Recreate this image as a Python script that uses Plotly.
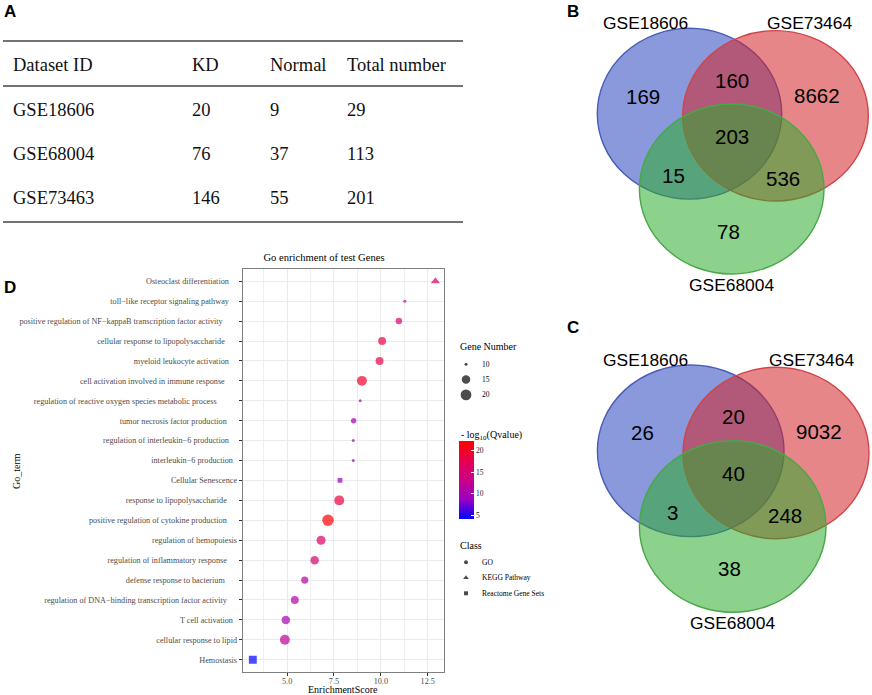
import numpy as np
import plotly.graph_objects as go

W, H = 872, 695
SERIF = "Liberation Serif"
SANS = "Liberation Sans"

# ---------------- Panel A: dataset table ----------------
table_headers = ["Dataset ID", "KD", "Normal", "Total number"]
dataset_ids = ["GSE18606", "GSE68004", "GSE73463"]
kd_counts = [20, 76, 146]
normal_counts = [9, 37, 55]
total_numbers = [29, 113, 201]

# ---------------- Panels B & C: Venn diagrams ----------------
venn_set_names = ["GSE18606", "GSE73464", "GSE68004"]
venn_regions = ["GSE18606 only", "GSE18606 & GSE73464", "GSE73464 only", "all three",
                "GSE18606 & GSE68004", "GSE73464 & GSE68004", "GSE68004 only"]
venn_b_counts = [169, 160, 8662, 203, 15, 536, 78]
venn_c_counts = [26, 20, 9032, 40, 3, 248, 38]

# ---------------- Panel D: enrichment dot plot ----------------
go_terms = [
    "Osteoclast differentiation",
    "toll-like receptor signaling pathway",
    "positive regulation of NF-kappaB transcription factor activity",
    "cellular response to lipopolysaccharide",
    "myeloid leukocyte activation",
    "cell activation involved in immune response",
    "regulation of reactive oxygen species metabolic process",
    "tumor necrosis factor production",
    "regulation of interleukin-6 production",
    "interleukin-6 production",
    "Cellular Senescence",
    "response to lipopolysaccharide",
    "positive regulation of cytokine production",
    "regulation of hemopoiesis",
    "regulation of inflammatory response",
    "defense response to bacterium",
    "regulation of DNA-binding transcription factor activity",
    "T cell activation",
    "cellular response to lipid",
    "Hemostasis",
]
enrichment_score = [12.91, 11.28, 10.96, 10.07, 9.93, 8.99, 8.90, 8.55, 8.53, 8.53,
                    7.82, 7.78, 7.18, 6.81, 6.47, 5.94, 5.41, 4.93, 4.88, 3.17]
gene_number = [12, 10, 12, 14, 14, 18, 10, 11, 10, 10,
               11, 18, 22, 16, 15, 13, 14, 15, 18, 16]
neg_log10_q = [15.5, 11.0, 15.0, 18.6, 18.2, 19.7, 9.3, 9.6, 9.3, 9.3,
               9.0, 18.6, 22.2, 16.0, 15.3, 11.3, 11.0, 10.1, 11.7, 4.1]
term_class = ["KEGG Pathway", "GO", "GO", "GO", "GO", "GO", "GO", "GO", "GO", "GO",
              "Reactome Gene Sets", "GO", "GO", "GO", "GO", "GO", "GO", "GO", "GO",
              "Reactome Gene Sets"]
class_names = ["GO", "KEGG Pathway", "Reactome Gene Sets"]
legend_gene_values = [10, 15, 20]
colorbar_ticks = [5, 10, 15, 20]
x_ticks = [5.0, 7.5, 10.0, 12.5]

# ---------------- styles ----------------
label_pad = [4, 4, 7, 6, 4, 6, 10, 5, 4, 2, 0, 5, 5, 0, 5, 6, 5, 2, 0, 0]
class_symbol = {"GO": "circle", "KEGG Pathway": "triangle-up", "Reactome Gene Sets": "square"}
class_scale = {"GO": 1.0, "KEGG Pathway": 1.25, "Reactome Gene Sets": 0.88}
colorscale = [[0.0, "#0000FF"], [0.25, "#9A00C2"], [0.5, "#CA0089"], [0.75, "#E8004F"], [1.0, "#FF0000"]]

gmin, gmax = min(gene_number), max(gene_number)


def gene_size(v):
    v = np.asarray(v, dtype=float)
    return 3.0 + 8.5 * np.sqrt(np.clip((v - gmin) / (gmax - gmin), 0, 1))


fig = go.Figure()

# main dot plot traces
for cls in class_names:
    idx = [i for i, c in enumerate(term_class) if c == cls]
    fig.add_trace(go.Scatter(
        x=[enrichment_score[i] for i in idx],
        y=[go_terms[i] for i in idx],
        mode="markers",
        name=cls,
        showlegend=False,
        marker=dict(
            symbol=class_symbol[cls],
            size=gene_size([gene_number[i] for i in idx]) * class_scale[cls],
            color=[neg_log10_q[i] for i in idx],
            coloraxis="coloraxis",
            line=dict(width=0),
        ),
    ))

# legend keys (pixel overlay axis)
LEG_X = 466
gene_key_y = [364.3 + 15.3 * i for i in range(len(legend_gene_values))]
fig.add_trace(go.Scatter(
    x=[LEG_X] * len(legend_gene_values), y=gene_key_y, xaxis="x2", yaxis="y2",
    mode="markers", showlegend=False, hoverinfo="skip", name="Gene Number",
    marker=dict(size=gene_size(legend_gene_values), color="black", line=dict(width=0)),
))
class_key_y = [562.3 + 15.5 * i for i in range(len(class_names))]
fig.add_trace(go.Scatter(
    x=[LEG_X] * len(class_names), y=class_key_y, xaxis="x2", yaxis="y2",
    mode="markers", showlegend=False, hoverinfo="skip", name="Class",
    marker=dict(symbol=[class_symbol[c] for c in class_names], size=[4, 5, 4], color="black", line=dict(width=0)),
))

annotations = []
shapes = []


def ann(x, y, text, size, family=SANS, color="black", xanchor="center", yanchor="middle", **kw):
    annotations.append(dict(x=x, y=y, xref="x2", yref="y2", text=text, showarrow=False,
                            font=dict(family=family, size=size, color=color),
                            xanchor=xanchor, yanchor=yanchor, **kw))


# panel letters
for letter, (lx, ly) in zip("ABCD", [(10, 11), (573, 11), (573, 327), (10, 287)]):
    ann(lx, ly, "<b>%s</b>" % letter, 17)

# table A
col_x = [10.7, 190, 268, 345]
for hx, htxt in zip(col_x, table_headers):
    ann(hx, 65, htxt, 18.5, family=SERIF, color="#111", xanchor="left")
row_y = [110, 154, 198]
for ry, did, kd, nm, tot in zip(row_y, dataset_ids, kd_counts, normal_counts, total_numbers):
    for cx, val in zip(col_x, [did, kd, nm, tot]):
        ann(cx, ry, str(val), 18.5, family=SERIF, color="#111", xanchor="left")
for ly in [41, 86, 222]:
    shapes.append(dict(type="line", xref="x2", yref="y2", x0=3, x1=463, y0=ly, y1=ly,
                       line=dict(color="#444", width=1.3)))

# Venn diagrams
venn_fill = ["rgba(40,70,190,0.55)", "rgba(212,35,40,0.55)", "rgba(45,172,45,0.55)"]
venn_line = ["#4A5CB8", "#D04548", "#48A848"]
venn_panels = [
    dict(counts=venn_b_counts,
         ellipses=[(689.5, 113.7, 92.2, 85.4), (775.5, 115.8, 92.8, 85.2), (731.7, 189.0, 92.3, 85.0)],
         labels=[(645.8, 23.3), (809.5, 23.3), (731.3, 285.0)],
         regions=[(642.7, 96.7), (732.3, 80.0), (817.3, 95.7), (731.7, 136.7), (673.3, 175.7), (783.3, 178.3), (728.3, 231.7)]),
    dict(counts=venn_c_counts,
         ellipses=[(690.7, 450.8, 93.3, 85.8), (776.0, 453.0, 93.0, 85.7), (732.7, 526.5, 93.3, 85.8)],
         labels=[(645.5, 360.0), (811.3, 360.0), (732.0, 622.7)],
         regions=[(642.3, 432.7), (733.3, 416.7), (819.0, 431.0), (733.3, 473.3), (672.7, 512.3), (785.0, 515.0), (729.3, 568.3)]),
]
for vp in venn_panels:
    for (cx, cy, rx, ry), fc, lc in zip(vp["ellipses"], venn_fill, venn_line):
        shapes.append(dict(type="circle", xref="x2", yref="y2", x0=cx - rx, x1=cx + rx,
                           y0=cy - ry, y1=cy + ry, fillcolor=fc, line=dict(color=lc, width=1.4),
                           layer="below"))
    for (tx, ty), name in zip(vp["labels"], venn_set_names):
        ann(tx, ty, name, 17.4)
    for (tx, ty), cnt in zip(vp["regions"], vp["counts"]):
        ann(tx, ty, str(cnt), 20.5)

# Panel D legend texts
ann(458.3, 346.7, "Gene Number", 10, family=SERIF, xanchor="left")
for gy, gv in zip(gene_key_y, legend_gene_values):
    ann(480, gy, str(gv), 7.5, family=SERIF, xanchor="left")
ann(459.3, 435.5, "- log<sub>10</sub>(Qvalue)", 10, family=SERIF, xanchor="left")
ann(458.3, 545, "Class", 10, family=SERIF, xanchor="left")
for cy, cn in zip(class_key_y, class_names):
    ann(480, cy, cn, 7.5, family=SERIF, xanchor="left")

# axis titles of panel D
ann(16, 471, "Go_term", 10, family=SERIF, textangle=-90)
ann(343.4, 689, "EnrichmentScore", 10, family=SERIF)

# Main axis geometry
PX_L, PX_R, PX_T, PX_B = 242.7, 444.0, 269.3, 671.7
ticktext = [t.replace("-", "\u2212") + "\u00a0" * p for t, p in zip(go_terms, label_pad)]

fig.update_layout(
    width=W, height=H,
    margin=dict(l=0, r=0, t=0, b=0),
    paper_bgcolor="white",
    plot_bgcolor="rgba(0,0,0,0)",
    title=dict(text="Go enrichment of test Genes", x=324 / W, xanchor="center",
               y=1 - 257 / H, yanchor="middle", font=dict(family=SERIF, size=10.6, color="black")),
    xaxis=dict(
        domain=[PX_L / W, PX_R / W], anchor="y", range=[2.63, 13.37],
        tickmode="array", tickvals=x_ticks, ticktext=["%.1f" % v for v in x_ticks],
        ticks="outside", ticklen=3, tickcolor="#333", tickwidth=1,
        tickfont=dict(family=SERIF, size=8.2, color="#4D4D4D"),
        ticklabelstandoff=-2,
        showgrid=True, gridcolor="#EBEBEB", gridwidth=1,
        minor=dict(tickvals=[3.75, 6.25, 8.75, 11.25], showgrid=True, gridcolor="#EFEFEF", gridwidth=0.6),
        showline=True, mirror=True, linecolor="#7F7F7F", linewidth=1, zeroline=False,
    ),
    yaxis=dict(
        domain=[1 - PX_B / H, 1 - PX_T / H], anchor="x", type="category",
        categoryorder="array", categoryarray=go_terms[::-1],
        range=[-0.6, len(go_terms) - 0.4],
        tickmode="array", tickvals=go_terms, ticktext=ticktext,
        ticks="outside", ticklen=3, tickcolor="#333", tickwidth=1,
        tickfont=dict(family=SERIF, size=8.2, color="#4D4D4D"),
        showgrid=True, gridcolor="#EBEBEB", gridwidth=1,
        showline=True, mirror=True, linecolor="#7F7F7F", linewidth=1, zeroline=False,
    ),
    xaxis2=dict(domain=[0, 1], range=[0, W], visible=False, anchor="y2", fixedrange=True),
    yaxis2=dict(domain=[0, 1], range=[H, 0], visible=False, anchor="x2", fixedrange=True),
    coloraxis=dict(
        cmin=min(neg_log10_q), cmax=max(neg_log10_q), colorscale=colorscale,
        colorbar=dict(
            x=459.3 / W, xanchor="left", y=1 - 519.3 / H, yanchor="bottom",
            len=(519.3 - 441.7) / H, lenmode="fraction", thickness=15, thicknessmode="pixels",
            outlinewidth=0, xpad=0, ypad=0,
            tickmode="array", tickvals=colorbar_ticks, ticks="inside", ticklen=3,
            tickcolor="white", tickwidth=1,
            tickfont=dict(family=SERIF, size=7.5, color="#222"),
        ),
    ),
    annotations=annotations,
    shapes=shapes,
)

# remove the browser's default 8px page margin so the figure sits at the window origin
fig.write_html("out.html", config={"displayModeBar": False},
               post_script="document.body.style.margin='0';document.body.style.overflow='hidden';")
